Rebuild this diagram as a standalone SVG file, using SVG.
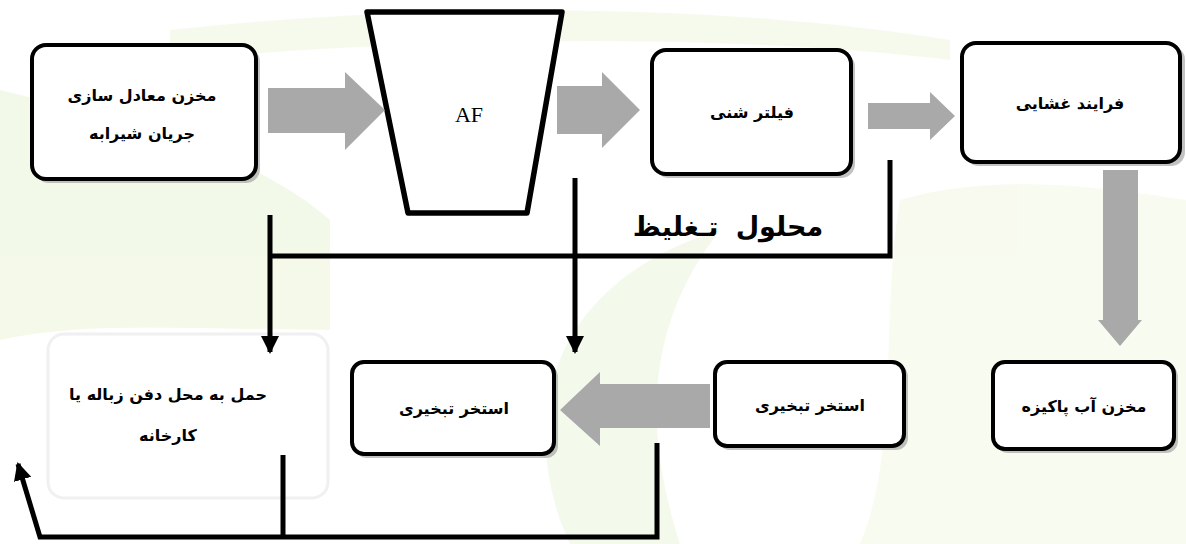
<svg xmlns="http://www.w3.org/2000/svg" width="1186" height="544" viewBox="0 0 1186 544">
<style>
.box{fill:#fff;stroke:#000;stroke-width:4}
.shadow{fill:#9a9a9a;opacity:0.6}
.t{font-family:"DejaVu Sans",sans-serif;font-size:16px;font-weight:bold;fill:#000;text-anchor:middle;direction:rtl}
.garrow{fill:#a9a9a9}
.line{stroke:#000;stroke-width:5;fill:none}
</style>
<defs>
<marker id="ah" markerWidth="20" markerHeight="20" refX="16" refY="9" orient="auto" markerUnits="userSpaceOnUse">
<path d="M0,0 L18,9 L0,18 Z" fill="#000"/>
</marker>
</defs>
<rect width="1186" height="544" fill="#fff"/>
<g id="background" opacity="0.4">
<path d="M0,90 C120,120 250,150 330,220 L330,330 C200,330 90,320 0,340 Z" fill="#e3f1c8"/>
<path d="M170,30 C400,5 700,0 950,40 L950,60 C700,30 400,40 170,60 Z" fill="#e8f3d2"/>
<path d="M900,200 C1000,170 1120,190 1186,200 L1186,544 L860,544 C900,450 880,320 900,200 Z" fill="#eef5d8"/>
<path d="M560,520 C520,400 560,280 720,230 C650,320 640,420 680,544 L570,544 Z" fill="#e2f0cc"/>
</g>
<g id="n1">
<rect class="shadow" x="35" y="48" width="225" height="135" rx="14"/>
<rect class="box" x="32" y="45" width="224" height="134" rx="14"/>
<text class="t" x="142" y="101">مخزن معادل سازی</text>
<text class="t" x="142" y="139">جریان شیرابه</text>
</g>
<g id="af">
<path d="M367,12 L562,12 L527,213 L408,213 Z" fill="#fff" stroke="#000" stroke-width="5.5" stroke-linejoin="round"/>
<text x="469" y="122" font-family="Liberation Serif,serif" font-size="22" text-anchor="middle">AF</text>
</g>
<g id="n_filter">
<rect class="shadow" x="655" y="53" width="200" height="125" rx="14"/>
<rect class="box" x="652" y="50" width="199" height="124" rx="14"/>
<text class="t" x="752" y="118">فیلتر شنی</text>
</g>
<g id="n_membrane">
<rect class="shadow" x="965" y="46" width="220" height="120" rx="14"/>
<rect class="box" x="962" y="43" width="218" height="119" rx="14"/>
<text class="t" x="1070" y="109">فرایند غشایی</text>
</g>
<g id="n_clean">
<rect class="shadow" x="996" y="365" width="182" height="88" rx="12"/>
<rect class="box" x="993" y="362" width="181" height="87" rx="12"/>
<text class="t" x="1084" y="412">مخزن آب پاکیزه</text>
</g>
<g id="n_evap2">
<rect class="shadow" x="718" y="365" width="190" height="85" rx="12"/>
<rect class="box" x="715" y="362" width="189" height="84" rx="12"/>
<text class="t" x="810" y="411">استخر تبخیری</text>
</g>
<g id="n_evap1">
<rect class="shadow" x="355" y="365" width="203" height="93" rx="12"/>
<rect class="box" x="352" y="362" width="202" height="92" rx="12"/>
<text class="t" x="454" y="414">استخر تبخیری</text>
</g>
<g id="n_dispose">
<rect x="48" y="334" width="280" height="164" rx="16" fill="#fff" stroke="#f0f0f0" stroke-width="3"/>
<text class="t" x="168" y="400" font-size="14">حمل به محل دفن زباله یا</text>
<text class="t" x="168" y="441" font-size="14">کارخانه</text>
</g>
<g id="connectors">
<path class="garrow" d="M268,88 L345,88 L345,72 L385,110 L345,150 L345,133 L268,133 Z"/>
<path class="garrow" d="M557,86 L602,86 L602,72 L640,110 L602,148 L602,134 L557,134 Z"/>
<path class="garrow" d="M868,103 L930,103 L930,92 L955,116 L930,140 L930,129 L868,129 Z"/>
<path class="garrow" d="M1103,170 L1138,170 L1138,320 L1142,320 L1120,346 L1098,320 L1103,320 Z"/>
<path class="garrow" d="M710,384 L600,384 L600,372 L560,410 L600,446 L600,428 L710,428 Z"/>
<path class="line" d="M890,160 L890,256 L270,256"/>
<path class="line" d="M270,215 L270,352" marker-end="url(#ah)"/>
<path class="line" d="M575,178 L575,352" marker-end="url(#ah)"/>
<path class="line" d="M283,455 L283,537"/>
<path class="line" d="M657,443 L657,537 L40,537 L18,464" marker-end="url(#ah)"/>
<text x="728" y="236" font-family="DejaVu Sans,sans-serif" font-size="27" font-weight="bold" text-anchor="middle" direction="rtl" word-spacing="8">محلول تـغلیظ</text>
</g>
</svg>
